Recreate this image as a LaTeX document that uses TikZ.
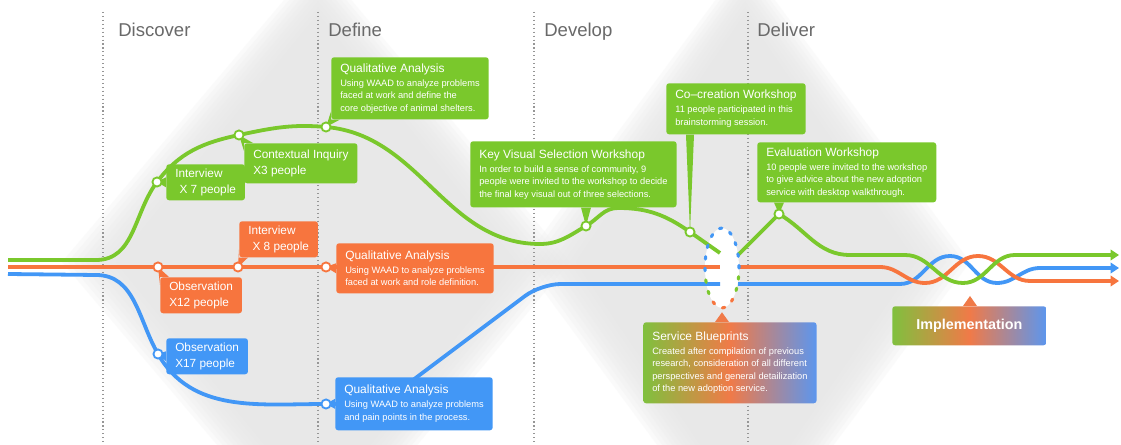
\documentclass[tikz,border=0pt]{standalone}
\usepackage{fontspec}
\setmainfont{Liberation Sans}
\usetikzlibrary{arrows.meta,positioning,calc,shapes.geometric}
\definecolor{leafgreen}{RGB}{122,200,44}
\definecolor{coral}{RGB}{247,117,62}
\definecolor{skyblue}{RGB}{66,151,246}
\definecolor{phasegray}{RGB}{105,105,105}
\definecolor{sepgray}{RGB}{150,150,150}
\definecolor{bandgray}{RGB}{231,231,231}
\definecolor{mixgreen}{RGB}{128,192,62}
\definecolor{mixorange}{RGB}{240,122,72}
\definecolor{mixblue}{RGB}{92,150,238}
\newcommand\cardhead{\fontsize{8.5}{10}\selectfont}
\newcommand\cardtext{\fontsize{6.6}{8.9}\selectfont}
\tikzset{
  flowline/.style={line width=2.7pt},
  gline/.style={flowline,draw=leafgreen},
  oline/.style={flowline,draw=coral},
  bline/.style={flowline,draw=skyblue},
  flowend/.style={-{Triangle[length=6pt,width=7.5pt]}},
  spot/.style={circle,fill=white,line width=1.3pt,minimum size=6.5pt,inner sep=0pt},
  tag/.style={rounded corners=2pt,text=white,align=left,anchor=north west,
    inner xsep=6.4pt,inner ysep=2pt,minimum height=0.9cm,font=\fontsize{8.4}{11.4}\selectfont},
  card/.style={rounded corners=2pt,text=white,align=left,anchor=north west,
    inner xsep=6.4pt,inner ysep=2pt,font=\cardtext},
  mixcard/.style={card,left color=mixgreen,right color=mixblue,middle color=mixorange},
  phasename/.style={anchor=base west,inner sep=0pt,text=phasegray,font=\fontsize{13.2}{15}\selectfont},
  phasesep/.style={draw=sepgray,line width=0.8pt,dash pattern=on 0.8pt off 2pt},
  hubdots/.style={line width=2.2pt,line cap=round,dash pattern=on 1.8pt off 6.5pt},
}

\begin{document}
\begin{tikzpicture}[x=0.025cm,y=0.025cm]
\useasboundingbox (0,0) rectangle (1121,-445);
\clip (0,0) rectangle (1121,-445);
\fill[white] (0,0) rectangle (1121,-445);
\foreach \k in {0,...,9}{
  \fill[bandgray,opacity=0.18] ({62+6*\k},-262) -- (318,{40-6*\k}) -- ({570-6*\k},-262) -- (318,{-564+6*\k}) -- cycle;
  \fill[bandgray,opacity=0.18] ({522+6*\k},-262) -- (745,{40-6*\k}) -- ({970-6*\k},-262) -- (745,{-564+6*\k}) -- cycle;
}
\foreach \x in {103,318,534,748}
  \draw[phasesep] (\x,-12) -- (\x,-445);

\node[phasename] (discover) at (118,-37) {Discover};
\node[phasename] (define) at (328,-37) {Define};
\node[phasename] (develop) at (544,-37) {Develop};
\node[phasename] (deliver) at (757,-37) {Deliver};

\node[ellipse,fill=white,minimum width=0.85cm,minimum height=2cm,inner sep=0pt] (hub) at (722,-268) {};

\coordinate (gs) at (8,-260);
\coordinate (ga) at (96,-260);
\coordinate (pg1) at (157,-182);
\coordinate (pg2) at (239,-135);
\coordinate (pg3) at (326,-127);
\coordinate (gb) at (540,-244);
\coordinate (pg4) at (586,-226);
\coordinate (gc) at (618,-208);
\coordinate (pg5) at (690,-232);
\coordinate (gl) at (720,-253);
\coordinate (gr) at (738,-255);
\coordinate (pg6) at (779,-214);
\coordinate (gf) at (850,-255);
\coordinate (gw0) at (905,-255);
\coordinate (gw1) at (963,-283);
\coordinate (gw2) at (1015,-255);
\coordinate (ge) at (1119,-255);

\coordinate (os) at (8,-267);
\coordinate (po1) at (158,-267);
\coordinate (po2) at (238,-267);
\coordinate (po3) at (326,-267);
\coordinate (ol) at (720,-267);
\coordinate (or) at (738,-267);
\coordinate (ow0) at (880,-267);
\coordinate (ow1) at (925,-283);
\coordinate (ow2) at (978,-256);
\coordinate (ow3) at (1030,-281);
\coordinate (oe) at (1119,-281);

\coordinate (bs) at (8,-274);
\coordinate (ba) at (96,-275);
\coordinate (pb1) at (158,-354);
\coordinate (pb2) at (326,-404);
\coordinate (bk1) at (381,-404);
\coordinate (bk2) at (541,-284);
\coordinate (bl) at (720,-284);
\coordinate (br) at (738,-284);
\coordinate (bw0) at (900,-284);
\coordinate (bw1) at (950,-256);
\coordinate (bw2) at (997,-283);
\coordinate (bw3) at (1040,-268);
\coordinate (be) at (1119,-268);

\draw[bline] (bs) -- (ba) to[out=0,in=120] (pb1) to[out=-60,in=180] (pb2)
  [rounded corners=14pt] -- (bk1) -- (bk2) -- (bl);
\draw[bline,flowend] (br) -- (bw0) to[out=0,in=180] (bw1) to[out=0,in=180] (bw2)
  to[out=0,in=180] (bw3) -- (be);
\draw[oline] (os) -- (po1) -- (po2) -- (po3) -- (ol);
\draw[oline,flowend] (or) -- (ow0) to[out=0,in=180] (ow1) to[out=0,in=180] (ow2)
  to[out=0,in=180] (ow3) -- (oe);
\draw[gline] (gs) -- (ga) to[out=0,in=233] (pg1) to[out=53,in=192] (pg2)
  to[out=12,in=175] (pg3) to[out=-5,in=180] (gb) to[out=0,in=210] (pg4)
  to[out=30,in=180] (gc) to[out=0,in=145] (pg5) to[out=-35,in=145] (gl);
\draw[gline,flowend] (gr) to[out=45,in=225] (pg6) to[out=-30,in=180] (gf) -- (gw0)
  to[out=0,in=180] (gw1) to[out=0,in=180] (gw2) -- (ge);

\begin{scope}
  \clip (690,-220) rectangle (760,-275);
  \draw[hubdots,skyblue] (hub.center) ellipse [x radius=0.425cm,y radius=1cm];
\end{scope}
\begin{scope}
  \clip (690,-275) rectangle (760,-297);
  \draw[hubdots,leafgreen] (hub.center) ellipse [x radius=0.425cm,y radius=1cm];
\end{scope}
\begin{scope}
  \clip (690,-297) rectangle (760,-320);
  \draw[hubdots,coral] (hub.center) ellipse [x radius=0.425cm,y radius=1cm];
\end{scope}

\node[tag,fill=leafgreen] (tg1) at (166,-164) {Interview\\\hspace{3pt}X 7 people};
\node[tag,fill=leafgreen,minimum height=1cm] (tg2) at (244,-143) {Contextual Inquiry\\X3 people};
\node[card,fill=leafgreen,minimum height=1.55cm] (tg3) at (331,-57)
  {{\cardhead Qualitative Analysis}\\[1pt]Using WAAD to analyze problems\\faced at work and define the\\core objective of animal shelters.};
\node[card,fill=leafgreen,minimum height=1.65cm] (tg4) at (470,-141)
  {{\cardhead Key Visual Selection Workshop}\\[1pt]In order to build a sense of community, 9\\people were invited to the workshop to decide\\the final key visual out of three selections.};
\node[card,fill=leafgreen,minimum height=1.275cm] (tg5) at (666,-83)
  {{\cardhead Co--creation Workshop}\\[1pt]11 people participated in this\\brainstorming session.};
\node[card,fill=leafgreen,minimum height=1.5cm] (tg6) at (757,-142)
  {{\cardhead Evaluation Workshop}\\[1pt]10 people were invited to the workshop\\to give advice about the new adoption\\service with desktop walkthrough.};
\node[tag,fill=coral] (to1) at (239,-221) {Interview\\\hspace{3pt}X 8 people};
\node[tag,fill=coral] (to2) at (160,-277) {Observation\\X12 people};
\node[card,fill=coral,minimum height=1.25cm] (to3) at (336,-243)
  {{\cardhead Qualitative Analysis}\\[1pt]Using WAAD to analyze problems\\faced at work and role definition.};
\node[tag,fill=skyblue] (tb1) at (166,-338) {Observation\\X17 people};
\node[card,fill=skyblue,minimum height=1.325cm] (tb2) at (335,-377)
  {{\cardhead Qualitative Analysis}\\[1pt]Using WAAD to analyze problems\\and pain points in the process.};
\node[mixcard,minimum height=2.025cm] (tsb) at (643,-322)
  {{\cardhead Service Blueprints}\\[1pt]Created after compilation of previous\\research, consideration of all different\\perspectives and general detailization\\of the new adoption service.};
\node[mixcard,align=center,minimum width=3.85cm,minimum height=0.975cm,
  font=\fontsize{10.2}{12}\selectfont\bfseries] (timp) at (892,-306) {Implementation};
\coordinate (pimp) at (970,-296);

\fill[leafgreen] (pg1) -- ($(tg1.west)+(0,5)$) -- ($(tg1.west)+(0,-5)$) -- cycle;
\fill[leafgreen] (pg2) -- ($(tg2.north west)+(0,-8)$) -- (tg2.north west) -- ($(tg2.north west)+(9,0)$) -- cycle;
\fill[leafgreen] (pg3) -- ($(tg3.south west)+(0,8)$) -- (tg3.south west) -- ($(tg3.south west)+(9,0)$) -- cycle;
\fill[leafgreen] (pg4) -- ($(pg4 |- tg4.south)+(-5,0)$) -- ($(pg4 |- tg4.south)+(5,0)$) -- cycle;
\fill[leafgreen] (pg5) -- ($(pg5 |- tg5.south)+(-4,0)$) -- ($(pg5 |- tg5.south)+(4,0)$) -- cycle;
\fill[leafgreen] (pg6) -- ($(pg6 |- tg6.south)+(-5,0)$) -- ($(pg6 |- tg6.south)+(5,0)$) -- cycle;
\fill[coral] (po2) -- ($(to1.south west)+(0,8)$) -- (to1.south west) -- ($(to1.south west)+(9,0)$) -- cycle;
\fill[coral] (po1) -- ($(to2.north west)+(0,-8)$) -- (to2.north west) -- ($(to2.north west)+(9,0)$) -- cycle;
\fill[coral] (po3) -- ($(to3.west)+(0,5)$) -- ($(to3.west)+(0,-5)$) -- cycle;
\fill[skyblue] (pb1) -- ($(tb1.west)+(0,5)$) -- ($(tb1.west)+(0,-5)$) -- cycle;
\fill[skyblue] (pb2) -- ($(tb2.west)+(0,5)$) -- ($(tb2.west)+(0,-5)$) -- cycle;
\fill[mixorange] ($(hub.south)+(0,-4)$) -- ($(hub.south |- tsb.north)+(-7,0)$) -- ($(hub.south |- tsb.north)+(7,0)$) -- cycle;
\fill[mixorange] (pimp) -- ($(pimp |- timp.north)+(-7,0)$) -- ($(pimp |- timp.north)+(7,0)$) -- cycle;

\node[spot,draw=leafgreen] (dg1) at (pg1) {};
\node[spot,draw=leafgreen] (dg2) at (pg2) {};
\node[spot,draw=leafgreen] (dg3) at (pg3) {};
\node[spot,draw=leafgreen] (dg4) at (pg4) {};
\node[spot,draw=leafgreen] (dg5) at (pg5) {};
\node[spot,draw=leafgreen] (dg6) at (pg6) {};
\node[spot,draw=coral] (do1) at (po1) {};
\node[spot,draw=coral] (do2) at (po2) {};
\node[spot,draw=coral] (do3) at (po3) {};
\node[spot,draw=skyblue] (db1) at (pb1) {};
\node[spot,draw=skyblue] (db2) at (pb2) {};
\end{tikzpicture}
\end{document}
